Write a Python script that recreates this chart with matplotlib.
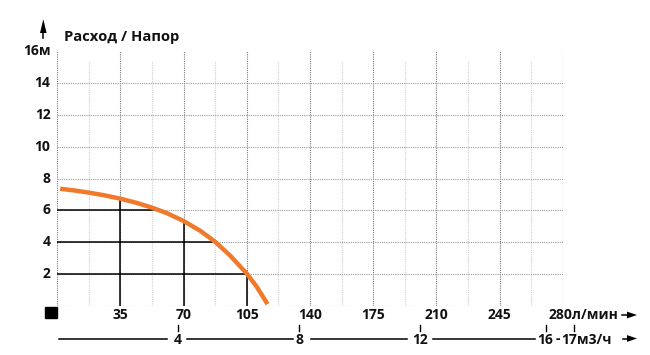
import matplotlib
matplotlib.use('Agg')
import matplotlib.pyplot as plt
import numpy as np
from matplotlib.transforms import blended_transform_factory
from matplotlib.patches import Rectangle, Polygon
from matplotlib.lines import Line2D

plt.rcParams['font.family'] = ['Open Sans', 'DejaVu Sans']

# ---------------- data ----------------
flow_lpm = [1.6, 9, 17.3, 26, 34.8, 44, 52.5, 60.6, 70, 79.1, 87.5, 95.6, 105, 110.3, 116.5]
head_m = [7.36, 7.26, 7.12, 6.95, 6.74, 6.47, 6.17, 5.83, 5.33, 4.72, 4.02, 3.17, 2.02, 1.22, 0.1]

guide_heads = [6, 4, 2]
guide_flows = [35, 70, 105]

lpm_ticks = [35, 70, 105, 140, 175, 210, 245, 280]
lpm_labels = ['35', '70', '105', '140', '175', '210', '245', '280']
head_ticks = [2, 4, 6, 8, 10, 12, 14, 16]
head_labels = ['2', '4', '6', '8', '10', '12', '14', '16м']

m3h_labels = ['4', '8', '12', '16', '17']
m3h_tick_lpm = [67, 134, 201, 271, 286]

title = 'Расход / Напор'
unit_lpm = 'л/мин'
unit_m3h = 'м3/ч'

# ---------------- figure ----------------
W, H = 650, 355
fig = plt.figure(figsize=(W / 100, H / 100), dpi=100)
x0, x1 = 57.3, 562.7
y0, y1 = 305.7, 51.5
ax = fig.add_axes([x0 / W, 1 - y0 / H, (x1 - x0) / W, (y0 - y1) / H])
ax.set_xlim(0, 280)
ax.set_ylim(0, 16)
for s in ax.spines.values():
    s.set_visible(False)
ax.set_xticks([])
ax.set_yticks([])

dot = (0, (1, 1))
# vertical grid
for v in np.arange(0, 281, 35):
    ax.plot([v, v], [0, 16], color='#7a7a7a', lw=0.8, ls=dot, zorder=1)
for v in np.arange(17.5, 280, 35):
    ax.plot([v, v], [0, 15.4], color='#cfcfcf', lw=0.8, ls=dot, zorder=1)
# horizontal grid
for h in range(0, 15, 2):
    ax.plot([0, 280], [h, h], color='#9a9a9a', lw=0.8, ls=dot, zorder=1)

# guide lines
fl = np.array(flow_lpm)
hd = np.array(head_m)
for h in guide_heads:
    xe = np.interp(h, hd[::-1], fl[::-1])
    ax.plot([0, xe], [h, h], color='black', lw=1.1, zorder=2, solid_capstyle='butt')
for f in guide_flows:
    ye = np.interp(f, fl, hd)
    ax.plot([f, f], [0, ye], color='black', lw=1.1, zorder=2, solid_capstyle='butt')

# curve
ax.plot(flow_lpm, head_m, color='#F07A2C', lw=3.2, zorder=3,
        solid_capstyle='butt', solid_joinstyle='round')

# ---------------- texts ----------------
fs = 10
def fy(py):
    return 1 - py / H

bx = blended_transform_factory(ax.transData, fig.transFigure)
by = blended_transform_factory(fig.transFigure, ax.transData)

# y tick labels
for t, lab in zip(head_ticks, head_labels):
    ax.text(50.5 / W, t, lab, transform=by, ha='right', va='center',
            fontsize=fs, fontweight='bold', color='#111')

# title
fig.text(64 / W, fy(37), title, ha='left', va='center', fontsize=10.6,
         fontweight='bold', color='#111')

def px_poly(pts):
    return Polygon([(x / W, fy(y)) for x, y in pts], closed=True,
                   transform=fig.transFigure, facecolor='black',
                   edgecolor='none')

# y arrow
fig.add_artist(Line2D([43.3 / W, 43.3 / W], [fy(38), fy(28)],
                      transform=fig.transFigure, color='black', lw=1.1))
fig.add_artist(px_poly([(43.3, 19.3), (46.6, 33), (40.0, 33)]))

# black square
fig.add_artist(Rectangle((45 / W, fy(318)), 12 / W, 11 / H,
                         transform=fig.transFigure, color='black'))

# l/min labels
for t, lab in zip(lpm_ticks[:-1], lpm_labels[:-1]):
    ax.text(t, fy(315), lab, transform=bx, ha='center', va='center',
            fontsize=fs, fontweight='bold', color='#111')
ax.text(549 / W, fy(315), lpm_labels[-1] + unit_lpm, transform=fig.transFigure,
        ha='left', va='center', fontsize=fs, fontweight='bold', color='#111')

# arrows at right
for xs, py in ((621.5, 315), (623, 338.5)):
    fig.add_artist(Line2D([xs / W, 630 / W], [fy(py), fy(py)],
                          transform=fig.transFigure, color='black', lw=1.1))
    fig.add_artist(px_poly([(637, py), (627, py - 3.4), (627, py + 3.4)]))

# m3/h axis
line_segments = [(59.3, 166.7), (187.3, 293.3), (310.7, 406.7), (433, 535)]
for a, b in line_segments:
    fig.add_artist(Line2D([a / W, b / W], [fy(339.3), fy(339.3)],
                   transform=fig.transFigure, color='black', lw=1.1))
for t, lab in zip(m3h_tick_lpm, m3h_labels):
    ax.plot([t, t], [fy(325), fy(330.5)], transform=bx, color='black', lw=1.0,
            clip_on=False)
for t, lab in zip(m3h_tick_lpm[:3], m3h_labels[:3]):
    ax.text(t, fy(339.5), lab, transform=bx, ha='center', va='center',
            fontsize=fs, fontweight='bold', color='#111')
fig.text(545.5 / W, fy(339.5), m3h_labels[3], ha='center', va='center',
         fontsize=fs, fontweight='bold', color='#111')
fig.text(557.5 / W, fy(339.5), '-', ha='center', va='center',
         fontsize=fs, fontweight='bold', color='#111')
fig.text(561.5 / W, fy(339.5), m3h_labels[4] + unit_m3h, ha='left', va='center',
         fontsize=fs, fontweight='bold', color='#111')

fig.savefig('out.png', dpi=100, facecolor='white')
